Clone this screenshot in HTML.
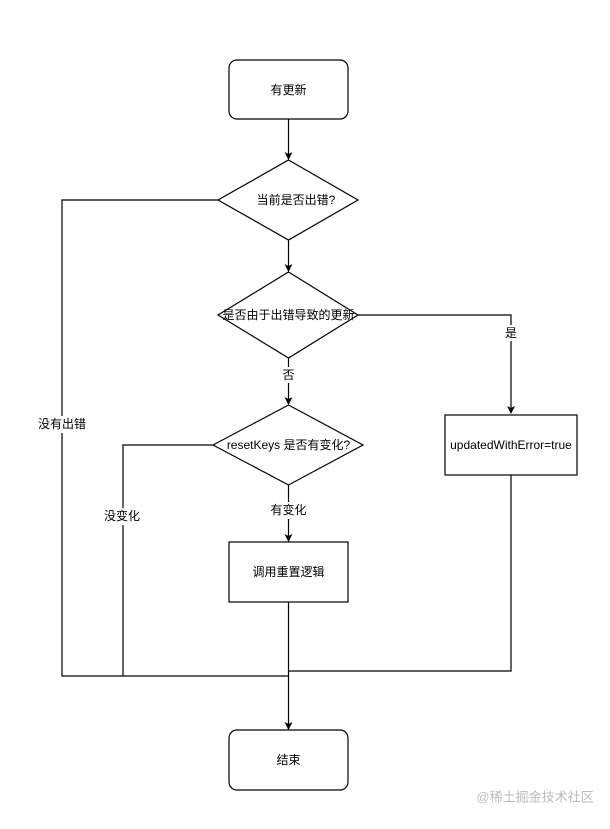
<!DOCTYPE html>
<html><head><meta charset="utf-8"><style>
html,body{margin:0;padding:0;background:#fff;}
svg text{font-family:"Liberation Sans","Noto Sans CJK SC",sans-serif;font-size:12px;fill:#000;}
</style></head><body>
<svg width="610" height="824" viewBox="0 0 610 824" xmlns="http://www.w3.org/2000/svg">
<defs><marker id="a" markerWidth="8" markerHeight="8" refX="7" refY="4" orient="auto" markerUnits="userSpaceOnUse"><path d="M0,0 L8,4 L0,8 L2,4 Z" fill="#000"/></marker></defs>
<g fill="none" stroke="#000" stroke-width="1.2">
<rect x="229" y="60" width="119" height="59" rx="8"/>
<line x1="288.5" y1="119" x2="288.5" y2="159" marker-end="url(#a)"/>
<polygon points="288.5,160 358,200 288.5,240 218,200"/>
<line x1="288.5" y1="240" x2="288.5" y2="271" marker-end="url(#a)"/>
<polygon points="288.5,272 358,315 288.5,358 218,315"/>
<polyline points="358,315 511,315 511,413" marker-end="url(#a)"/>
<line x1="288.5" y1="358" x2="288.5" y2="404" marker-end="url(#a)"/>
<polygon points="288.5,405 363,445 288.5,485 213,445"/>
<rect x="445" y="415" width="132" height="60"/>
<line x1="288.5" y1="485" x2="288.5" y2="541" marker-end="url(#a)"/>
<rect x="229" y="542" width="119" height="60"/>
<line x1="288.5" y1="602" x2="288.5" y2="729" marker-end="url(#a)"/>
<polyline points="218,200 62,200 62,676 288.5,676"/>
<polyline points="213,445 123,445 123,676"/>
<polyline points="511,475 511,671 288.5,671"/>
<rect x="229" y="730" width="119" height="60" rx="8"/>
</g>
<g text-anchor="middle" dominant-baseline="central">
<text x="288.5" y="90">有更新</text>
<text x="296" y="200">当前是否出错?</text>
<text x="288.5" y="315">是否由于出错导致的更新</text>
<rect x="503" y="325" width="16" height="16" fill="#fff"/>
<text x="511" y="333">是</text>
<rect x="280" y="367" width="17" height="16" fill="#fff"/>
<text x="288.5" y="375">否</text>
<text x="288.5" y="445">resetKeys 是否有变化?</text>
<text x="511" y="445">updatedWithError=true</text>
<rect x="36" y="416" width="52" height="17" fill="#fff"/>
<text x="62" y="424">没有出错</text>
<rect x="100" y="508" width="46" height="17" fill="#fff"/>
<text x="122" y="516">没变化</text>
<rect x="268" y="502" width="42" height="17" fill="#fff"/>
<text x="288.5" y="510">有变化</text>
<text x="288.5" y="572">调用重置逻辑</text>
<text x="288.5" y="760">结束</text>
<text x="535" y="797" style="font-size:13px;fill:#bbb">@稀土掘金技术社区</text>
</g>
</svg>
</body></html>
